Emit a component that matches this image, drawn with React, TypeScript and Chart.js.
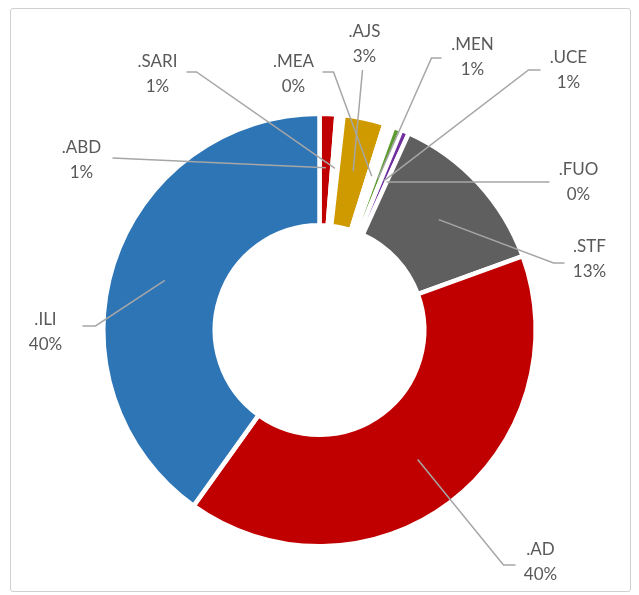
import { useEffect, useRef } from "react";
import { Chart, registerables } from "chart.js";

Chart.register(...registerables);

// Categories in clockwise order starting at 12 o'clock
const categories = [".ABD", ".SARI", ".AJS", ".MEA", ".MEN", ".UCE", ".FUO", ".STF", ".AD", ".ILI"];
// Shares (%)
const values = [1.25, 0.53, 3.08, 0.7, 0.62, 0.6, 0, 12.67, 40.44, 40.11];
// Percentage labels as printed
const percentLabels = ["1%", "1%", "3%", "0%", "1%", "1%", "0%", "13%", "40%", "40%"];
const sliceColors = ["#C00000", "#FFFFFF", "#CF9A00", "#FFFFFF", "#5B9B2F", "#7030A0", "#FFFFFF", "#5F5F5F", "#C00000", "#2E75B6"];

// Label placement relative to doughnut centre (px): text centre, leader start, optional elbow
type LabelPos = { text: [number, number]; start: [number, number]; elbow?: [number, number] };
const labelLayout: LabelPos[] = [
  { text: [-238, -182], start: [-207, -172] },
  { text: [-162, -268], start: [-133, -258], elbow: [-123, -258] },
  { text: [45, -298], start: [43, -260] },
  { text: [-26, -268], start: [3, -258], elbow: [14, -258] },
  { text: [153, -285], start: [122, -272], elbow: [112, -272] },
  { text: [249, -272], start: [221, -260], elbow: [209, -260] },
  { text: [259, -160], start: [230, -148] },
  { text: [270, -83], start: [245, -67], elbow: [234, -67] },
  { text: [221, 220], start: [196, 235], elbow: [184, 235] },
  { text: [-274, -10], start: [-237, -4], elbow: [-224, -4] },
];

const leaderPlugin = {
  id: "leaderLabels",
  afterDatasetsDraw(chart: any) {
    const ctx: CanvasRenderingContext2D = chart.ctx;
    const meta = chart.getDatasetMeta(0);
    ctx.save();
    meta.data.forEach((arc: any, i: number) => {
      const p = arc.getProps(["x", "y", "startAngle", "endAngle", "innerRadius", "outerRadius"], true);
      const mid = (p.startAngle + p.endAngle) / 2;
      const r = (p.innerRadius + p.outerRadius) / 2 + 2;
      const ex = p.x + Math.cos(mid) * r;
      const ey = p.y + Math.sin(mid) * r;
      const L = labelLayout[i];
      ctx.beginPath();
      ctx.strokeStyle = "#A6A6A6";
      ctx.lineWidth = 1.5;
      ctx.moveTo(p.x + L.start[0], p.y + L.start[1]);
      if (L.elbow) ctx.lineTo(p.x + L.elbow[0], p.y + L.elbow[1]);
      ctx.lineTo(ex, ey);
      ctx.stroke();
      ctx.fillStyle = "#595959";
      ctx.font = "17px Lato";
      ctx.textAlign = "center";
      ctx.textBaseline = "middle";
      ctx.fillText(categories[i], p.x + L.text[0], p.y + L.text[1]);
      ctx.fillText(percentLabels[i], p.x + L.text[0], p.y + L.text[1] + 25);
    });
    ctx.restore();
  },
};

export default function App() {
  const ref = useRef<HTMLCanvasElement>(null);
  useEffect(() => {
    const chart = new Chart(ref.current!, {
      type: "doughnut",
      data: {
        labels: categories,
        datasets: [
          {
            data: values,
            backgroundColor: sliceColors,
            borderColor: "#FFFFFF",
            borderWidth: 4.5,
          },
        ],
      },
      options: {
        responsive: false,
        animation: false,
        radius: 216.25,
        cutout: "48.4%",
        layout: { padding: { left: 100, right: 100, top: 111, bottom: 46 } },
        plugins: { legend: { display: false }, tooltip: { enabled: false } },
      } as any,
      plugins: [leaderPlugin],
    });
    return () => chart.destroy();
  }, []);
  return (
    <div style={{ position: "fixed", left: 0, top: 0, width: 639, height: 595, background: "#FFFFFF" }}>
      <div
        style={{
          position: "absolute",
          left: 10,
          top: 8,
          width: 621,
          height: 584,
          boxSizing: "border-box",
          border: "1px solid #D0D0D0",
          borderRadius: 3,
        }}
      />
      <canvas ref={ref} width={639} height={595} style={{ position: "absolute", left: 0, top: 0 }} />
    </div>
  );
}
